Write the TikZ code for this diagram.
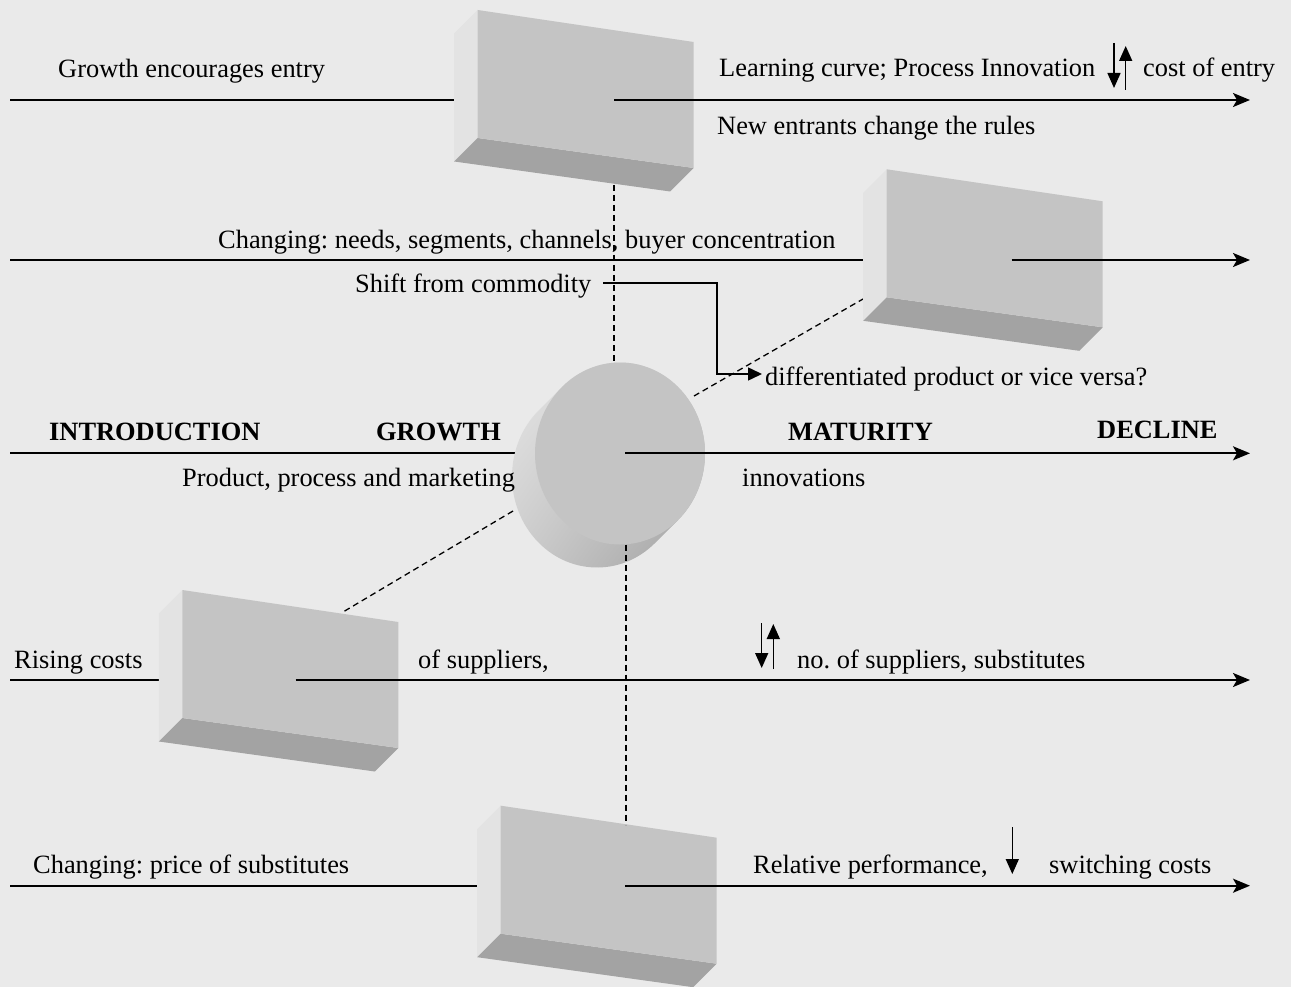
\documentclass[tikz,border=0pt]{standalone}
\usepackage{fontspec}
\setmainfont{Liberation Serif}
\usetikzlibrary{arrows.meta,shadings}
\frenchspacing
\definecolor{bg}{HTML}{EAEAEA}
\definecolor{face}{HTML}{C4C4C4}
\definecolor{sideface}{HTML}{E3E3E3}
\definecolor{bottomface}{HTML}{A3A3A3}
\definecolor{cylA}{HTML}{E8E8E8}
\definecolor{cylB}{HTML}{CDCDCD}
\definecolor{cylC}{HTML}{9C9C9C}
\tikzset{
  lbl/.style={anchor=base west, inner sep=0pt, font=\fontsize{26.4}{30}\selectfont},
  blbl/.style={anchor=base west, inner sep=0pt, font=\fontsize{26.4}{30}\selectfont\bfseries},
  flow/.style={line width=1.8pt, -{Stealth[length=17pt,width=14pt,inset=4pt]}},
  plainline/.style={line width=1.8pt},
  guide/.style={line width=1.3pt, dash pattern=on 6pt off 4pt},
  updown/.style={line width=1.5pt, -{Triangle[length=15pt,width=13pt]}},
  elbow/.style={line width=1.5pt, -{Triangle[length=14pt,width=13pt]}},
  slab/.pic={
    \fill[sideface] (0,0) -- (0,128) -- (-23.5,151.5) -- (-23.5,23.5) -- cycle;
    \fill[bottomface] (0,128) -- (216,158) -- (192.5,181.5) -- (-23.5,151.5) -- cycle;
    \fill[face] (0,0) -- (216,32) -- (216,158) -- (0,128) -- cycle;
  }
}
\begin{document}
\begin{tikzpicture}[x=1pt,y=-1pt]
\fill[bg] (0,0) rectangle (1291,987);
\useasboundingbox (0,0) rectangle (1291,987);

% ---- coordinates ----
\coordinate (a1) at (10,100);   \coordinate (b1) at (454,100);
\coordinate (s1) at (614,100);  \coordinate (e1) at (1250,100);
\coordinate (a2) at (10,260);   \coordinate (b2) at (863,260);
\coordinate (s2) at (1011.7,260); \coordinate (e2) at (1250,260);
\coordinate (a3) at (10,453.3); \coordinate (b3) at (560,453.3);
\coordinate (s3) at (625,453.3); \coordinate (e3) at (1250,453.3);
\coordinate (a4) at (10,680);   \coordinate (b4) at (158.5,680);
\coordinate (s4) at (295.7,680); \coordinate (e4) at (1250,680);
\coordinate (a5) at (10,885.7); \coordinate (b5) at (477.5,885.7);
\coordinate (s5) at (625,885.7); \coordinate (e5) at (1250,885.7);
\coordinate (cyl) at (620,453.5);
\coordinate (d1a) at (614,185); \coordinate (d1b) at (614,362);
\coordinate (d2a) at (626,544.5); \coordinate (d2b) at (626,824.5);
\coordinate (d3a) at (694,396); \coordinate (d3b) at (863,299);
\coordinate (d4a) at (513,511); \coordinate (d4b) at (343,612);

% ---- background connectors ----
\draw[plainline] (a1) -- (b1);
\draw[plainline] (a2) -- (b2);
\draw[plainline] (a3) -- (b3);
\draw[plainline] (a4) -- (b4);
\draw[plainline] (a5) -- (b5);
\draw[guide] (d1a) -- (d1b);
\draw[guide] (d3a) -- (d3b);

% ---- boxes ----
\pic at (477.7,10) {slab};
\pic at (886.7,169.3) {slab};
\pic at (182.3,590) {slab};
\pic at (500.7,805.7) {slab};

% ---- cylinder ----
\shade[upper left=cylA, upper right=cylB, lower left=cylB, lower right=cylC]
  (562,387) -- (539,410)
  arc[start angle=226.96, end angle=46.96, x radius=85, y radius=91]
  -- (678,520)
  arc[start angle=46.96, end angle=-133.04, x radius=85, y radius=91] -- cycle;
\fill[face] (cyl) ellipse[x radius=85, y radius=91];

\draw[guide] (d2a) -- (d2b);
\draw[guide] (d4a) -- (d4b);

% ---- foreground connectors ----
\draw[flow] (s1) -- (e1);
\draw[flow] (s2) -- (e2);
\draw[flow] (s3) -- (e3);
\draw[flow] (s4) -- (e4);
\draw[flow] (s5) -- (e5);

% ---- labels ----
\node[lbl] (t1) at (58,78) {Growth encourages entry};
\node[lbl] (t2) at (719,77) {Learning curve; Process Innovation};
\node[lbl] (t3) at (1143,77) {cost of entry};
\coordinate (u1a) at (1114,43); \coordinate (u1b) at (1114,88);
\coordinate (u2a) at (1125.7,90); \coordinate (u2b) at (1125.7,46);
\draw[updown] (u1a) -- (u1b);
\draw[updown] (u2a) -- (u2b);
\node[lbl] (t4) at (717,135) {New entrants change the rules};
\node[lbl] (t5) at (218,249) {Changing: needs, segments, channels, buyer concentration};
\node[lbl] (t6) at (355,293) {Shift from commodity};
\node[lbl] (t7) at (765,385) {differentiated product or vice versa?};
\coordinate (k1) at (603,283);
\coordinate (k2) at (717,283);
\coordinate (k3) at (717,374);
\coordinate (k4) at (762,374);
\draw[elbow] (k1) -- (k2) -- (k3) -- (k4);
\node[blbl] (p1) at (49,440) {INTRODUCTION};
\node[blbl] (p2) at (376,440) {GROWTH};
\node[blbl] (p3) at (788,440) {MATURITY};
\node[blbl] (p4) at (1097,438) {DECLINE};
\node[lbl] (t8) at (182,486) {Product, process and marketing};
\node[lbl] (t9) at (742,486) {innovations};
\node[lbl] (t10) at (14,668) {Rising costs};
\node[lbl] (t11) at (418,668) {of suppliers,};
\coordinate (v1a) at (761.7,623); \coordinate (v1b) at (761.7,668);
\coordinate (v2a) at (773.3,669); \coordinate (v2b) at (773.3,624);
\draw[updown] (v1a) -- (v1b);
\draw[updown] (v2a) -- (v2b);
\node[lbl] (t12) at (797,668) {no. of suppliers, substitutes};
\node[lbl] (t13) at (33,873) {Changing: price of substitutes};
\node[lbl] (t14) at (753,873) {Relative performance,};
\coordinate (w1a) at (1012.3,827); \coordinate (w1b) at (1012.3,874);
\draw[updown] (w1a) -- (w1b);
\node[lbl] (t15) at (1049,873) {switching costs};
\end{tikzpicture}
\end{document}
